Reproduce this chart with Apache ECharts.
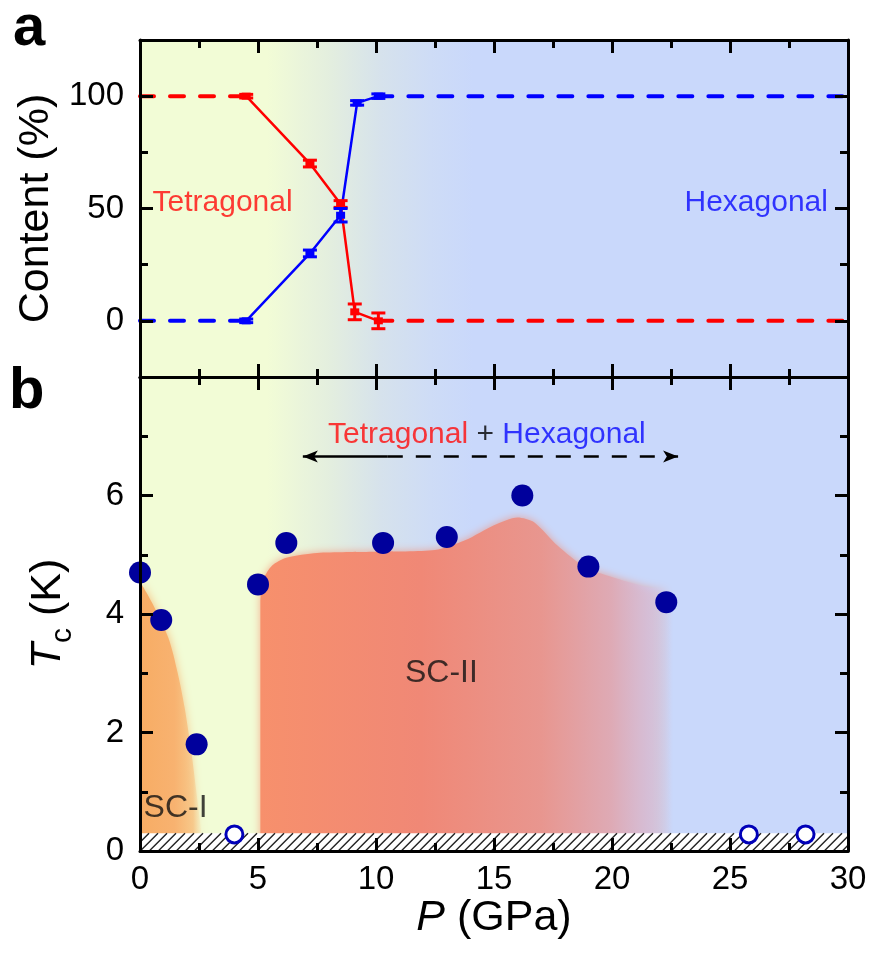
<!DOCTYPE html>
<html><head><meta charset="utf-8">
<script src="https://cdn.jsdelivr.net/npm/echarts@6/dist/echarts.min.js"></script>
<style>html,body{margin:0;padding:0;background:#fff}#c{width:872px;height:965px}</style>
</head><body><div id="c"></div>
<script>
// ================= DATA =================
// shared pressure axis
const pressureRange = [0, 30];
// panel a : phase content (%)
const tetraP = [4.5, 7.2, 8.5, 9.1, 10.1];
const tetraContent = [100, 70, 52, 4, 0];
const tetraErr = [0.8, 1.5, 1.5, 3.5, 3.5];
const hexaP = [4.5, 7.2, 8.5, 9.2, 10.1];
const hexaContent = [0, 30, 47, 97, 100];
const hexaErr = [0.8, 1.5, 3, 1, 1];
const tetraLowP = [0, 4.5], tetraLowC = [100, 100];
const tetraHighP = [10.1, 30], tetraHighC = [0, 0];
const hexaLowP = [0, 4.5], hexaLowC = [0, 0];
const hexaHighP = [10.1, 30], hexaHighC = [100, 100];
const contentRange = [-25, 125];
const contentMajorTicks = [0, 50, 100];
const contentMinorTicks = [25, 75];
// panel b : Tc (K)
const tcFilledP = [0, 0.9, 2.4, 5.0, 6.2, 10.3, 13.0, 16.2, 19.0, 22.3];
const tcFilledT = [4.7, 3.9, 1.8, 4.5, 5.2, 5.2, 5.3, 6.0, 4.8, 4.2];
const tcOpenP = [4.0, 25.8, 28.2];
const tcOpenT = [0.28, 0.28, 0.28];
const tcRange = [0, 8];
const tcLabelTicks = [0, 2, 4, 6];
// SC-I dome boundary
const sc1P = [0, 0.5, 1.2, 1.6, 1.9, 2.2, 2.45, 2.6, 2.65];
const sc1T = [4.55, 4.2, 3.6, 3.0, 2.4, 1.6, 0.8, 0.3, 0];
// SC-II dome boundary
const sc2P = [5.1, 5.1, 5.25, 5.6, 6.2, 7.5, 10, 12.5, 13.8, 15, 16, 16.7, 17.7, 18.9, 20.2, 21.5, 22.6, 22.6];
const sc2T = [0, 4.2, 4.6, 4.82, 4.95, 5.03, 5.05, 5.08, 5.25, 5.5, 5.63, 5.55, 5.15, 4.78, 4.6, 4.45, 4.35, 0];
// hatched (below detection limit) band: [Pmin, Pmax, Tmin, Tmax]
const hatchBand = [0, 30, 0, 0.3];
// mixed-phase arrow
const mixArrowT = 6.66;
const mixArrowP = [6.9, 10.5, 22.8]; // left tip, solid/dashed junction, right tip

// ================= STYLE =================
const FONT = 'Liberation Sans, Arial, sans-serif';
const RED = '#ff0000', BLUE = '#0000ff', NAVY = '#00009c';
const zip = (a, b) => a.map((v, i) => [v, b[i]]);

function frameX(gridIndex, position, labels) {
  return {
    type: 'value', gridIndex, position, min: pressureRange[0], max: pressureRange[1], interval: 5, z: 10,
    axisLine: { show: true, onZero: false, lineStyle: { color: '#000', width: 3 } },
    axisTick: { show: true, inside: true, length: 13, lineStyle: { color: '#000', width: 3 } },
    minorTick: { show: true, splitNumber: 2, length: 8, lineStyle: { color: '#000', width: 3 } },
    splitLine: { show: false }, minorSplitLine: { show: false },
    axisLabel: { show: labels, color: '#000', fontSize: 33, fontFamily: FONT, margin: 12, showMinLabel: true, showMaxLabel: true },
    name: labels ? '{i|P} (GPa)' : '', nameLocation: 'middle', nameGap: 44,
    nameTextStyle: { color: '#000', fontSize: 43, fontFamily: FONT, rich: { i: { fontStyle: 'italic', fontSize: 43, fontFamily: FONT, color: '#000' } } }
  };
}

function contentY(position, ticks, len, showLine, labels) {
  return {
    type: 'value', gridIndex: 0, position, min: contentRange[0], max: contentRange[1], z: 10,
    axisLine: { show: showLine, onZero: false, lineStyle: { color: '#000', width: 3 } },
    axisTick: { show: true, inside: true, length: len, customValues: ticks, lineStyle: { color: '#000', width: 3 } },
    splitLine: { show: false },
    axisLabel: { show: labels, customValues: ticks, color: '#000', fontSize: 33, fontFamily: FONT, margin: 16 },
    name: labels ? 'Content (%)' : '', nameLocation: 'middle', nameGap: 78,
    nameTextStyle: { color: '#000', fontSize: 43, fontFamily: FONT }
  };
}

function tcY(position, labels) {
  return {
    type: 'value', gridIndex: 1, position, min: tcRange[0], max: tcRange[1], interval: 2, z: 10,
    axisLine: { show: true, onZero: false, lineStyle: { color: '#000', width: 3 } },
    axisTick: { show: true, inside: true, length: 13, lineStyle: { color: '#000', width: 3 } },
    minorTick: { show: true, splitNumber: 2, length: 8, lineStyle: { color: '#000', width: 3 } },
    splitLine: { show: false }, minorSplitLine: { show: false },
    axisLabel: { show: labels, color: '#000', fontSize: 33, fontFamily: FONT, margin: 16,
      formatter: v => tcLabelTicks.indexOf(v) >= 0 ? String(v) : '' },
    name: labels ? '{i|T}{s|c}{n| (K)}' : '', nameLocation: 'middle', nameGap: 62,
    nameTextStyle: { color: '#000', fontSize: 43, fontFamily: FONT,
      rich: {
        i: { fontStyle: 'italic', fontSize: 43, fontFamily: FONT, color: '#000', verticalAlign: 'middle', lineHeight: 60 },
        s: { fontSize: 30, fontFamily: FONT, color: '#000', verticalAlign: 'bottom', lineHeight: 60 },
        n: { fontSize: 43, fontFamily: FONT, color: '#000', verticalAlign: 'middle', lineHeight: 60 }
      } }
  };
}

function bgArea(xi, yi, yr) {
  return {
    type: 'line', xAxisIndex: xi, yAxisIndex: yi, z: 1, silent: true,
    data: [[pressureRange[0], yr[0]]], showSymbol: false, lineStyle: { opacity: 0 },
    markArea: {
      silent: true,
      itemStyle: {
        color: { type: 'linear', x: 0, y: 0, x2: 1, y2: 0, colorStops: [
          { offset: 0, color: '#f2fcd6' }, { offset: 0.18, color: '#f2fcd6' },
          { offset: 0.27, color: '#e3eedf' }, { offset: 0.34, color: '#d6e2ec' },
          { offset: 0.41, color: '#cedcf6' }, { offset: 0.47, color: '#c9d8fb' }, { offset: 1, color: '#c9d8fb' }] }
      },
      data: [[{ coord: [pressureRange[0], yr[0]] }, { coord: [pressureRange[1], yr[1]] }]]
    }
  };
}

function dashed(P, C, color) {
  return { type: 'line', xAxisIndex: 0, yAxisIndex: 0, z: 3, data: zip(P, C), showSymbol: false, silent: true,
    lineStyle: { color, width: 4, type: [14, 16], cap: 'round', opacity: 1 } };
}
function solid(P, C, color) {
  return { type: 'line', xAxisIndex: 0, yAxisIndex: 0, z: 4, data: zip(P, C), symbol: 'rect', symbolSize: [9, 7],
    showSymbol: true, silent: true, itemStyle: { color, opacity: 1 }, lineStyle: { color, width: 2.5, opacity: 1 } };
}
function errBars(P, C, E, color) {
  return {
    type: 'custom', xAxisIndex: 0, yAxisIndex: 0, z: 5, silent: true,
    data: P.map((p, i) => [p, C[i], E[i]]),
    renderItem(params, api) {
      const x = api.value(0), y = api.value(1), e = api.value(2);
      const t = api.coord([x, y + e]), b = api.coord([x, y - e]);
      const w = 7, st = { stroke: color, lineWidth: 3 };
      return { type: 'group', children: [
        { type: 'line', shape: { x1: t[0], y1: t[1], x2: b[0], y2: b[1] }, style: st },
        { type: 'line', shape: { x1: t[0] - w, y1: t[1], x2: t[0] + w, y2: t[1] }, style: st },
        { type: 'line', shape: { x1: b[0] - w, y1: b[1], x2: b[0] + w, y2: b[1] }, style: st }
      ] };
    }
  };
}

const option = {
  animation: false,
  backgroundColor: '#fff',
  grid: [
    { left: 140, right: 24, top: 40, height: 337, outerBoundsMode: 'none' },
    { left: 140, right: 24, top: 377, height: 474, outerBoundsMode: 'none' }
  ],
  xAxis: [frameX(0, 'bottom', false), frameX(0, 'top', false), frameX(1, 'top', false), frameX(1, 'bottom', true)],
  yAxis: [
    contentY('left', contentMajorTicks, 13, true, true),
    contentY('left', contentMinorTicks, 8, false, false),
    contentY('right', contentMajorTicks, 13, true, false),
    contentY('right', contentMinorTicks, 8, false, false),
    tcY('left', true),
    tcY('right', false)
  ],
  graphic: [
    { type: 'text', x: 13, y: 29, z: 20, style: { text: 'a', font: 'bold 58px ' + FONT, fill: '#000', verticalAlign: 'middle' } },
    { type: 'text', x: 9, y: 392, z: 20, style: { text: 'b', font: 'bold 58px ' + FONT, fill: '#000', verticalAlign: 'middle' } }
  ],
  series: [
    bgArea(0, 0, contentRange),
    bgArea(3, 4, tcRange),
    // panel a
    dashed(tetraLowP, tetraLowC, RED), dashed(tetraHighP, tetraHighC, RED),
    dashed(hexaLowP, hexaLowC, BLUE), dashed(hexaHighP, hexaHighC, BLUE),
    solid(tetraP, tetraContent, RED), solid(hexaP, hexaContent, BLUE),
    errBars(tetraP, tetraContent, tetraErr, RED), errBars(hexaP, hexaContent, hexaErr, BLUE),
    {
      type: 'scatter', xAxisIndex: 0, yAxisIndex: 0, z: 6, symbolSize: 0, silent: true,
      label: { show: true, fontSize: 30, fontFamily: FONT },
      data: [
        { value: [0.53, 52.5], label: { formatter: 'Tetragonal', position: 'right', distance: 0, color: '#ff0a0a' } },
        { value: [29.15, 52.5], label: { formatter: 'Hexagonal', position: 'left', distance: 0, color: '#0a0aff' } }
      ]
    },
    // panel b : domes
    {
      type: 'line', xAxisIndex: 3, yAxisIndex: 4, z: 2, data: zip(sc1P, sc1T), smooth: 0.3, showSymbol: false, silent: true,
      lineStyle: { width: 0, opacity: 0 },
      areaStyle: {
        color: { type: 'linear', x: 0, y: 0, x2: 1, y2: 0, colorStops: [
          { offset: 0, color: '#f7ac64' }, { offset: 0.55, color: '#f8b270' },
          { offset: 0.85, color: 'rgba(248,195,130,0.65)' }, { offset: 1, color: 'rgba(245,230,180,0.15)' }] },
        shadowBlur: 10, shadowColor: 'rgba(247,172,100,0.8)', opacity: 1
      }
    },
    {
      type: 'line', xAxisIndex: 3, yAxisIndex: 4, z: 2, data: zip(sc2P, sc2T), smooth: 0.25, showSymbol: false, silent: true,
      lineStyle: { width: 0, opacity: 0 },
      areaStyle: {
        color: { type: 'linear', x: 0, y: 0, x2: 1, y2: 0, colorStops: [
          { offset: 0, color: '#f7906c' }, { offset: 0.39, color: '#f08876' },
          { offset: 0.68, color: '#e8968f' }, { offset: 0.85, color: '#deaab5' },
          { offset: 0.94, color: 'rgba(210,195,228,0.7)' }, { offset: 1, color: 'rgba(201,216,251,0)' }] },
        shadowBlur: 8, shadowColor: 'rgba(242,140,112,0.7)', opacity: 1
      }
    },
    // hatched band
    {
      type: 'custom', xAxisIndex: 3, yAxisIndex: 4, z: 3, silent: true,
      data: [hatchBand],
      renderItem(params, api) {
        const tl = api.coord([api.value(0), api.value(3)]);
        const br = api.coord([api.value(1), api.value(2)]);
        const x0 = tl[0], y0 = tl[1], x1 = br[0], y1 = br[1], h = y1 - y0;
        const ch = [{ type: 'rect', shape: { x: x0, y: y0, width: x1 - x0, height: h }, style: { fill: '#fff' } }];
        for (let xb = x0 - h; xb < x1; xb += 9) {
          let sx = xb, sy = y1, ex = xb + h, ey = y0;
          if (sx < x0) { sy = y1 - (x0 - sx); sx = x0; }
          if (ex > x1) { ey = y0 + (ex - x1); ex = x1; }
          if (ex <= sx) continue;
          ch.push({ type: 'line', shape: { x1: sx, y1: sy, x2: ex, y2: ey }, style: { stroke: '#222', lineWidth: 1.4 } });
        }
        return { type: 'group', children: ch };
      }
    },
    // Tc points
    {
      type: 'scatter', xAxisIndex: 3, yAxisIndex: 4, z: 7, clip: true, silent: true,
      data: zip(tcFilledP, tcFilledT), symbol: 'circle', symbolSize: 22, itemStyle: { color: NAVY, opacity: 1 }
    },
    {
      type: 'scatter', xAxisIndex: 3, yAxisIndex: 4, z: 7, silent: true,
      data: zip(tcOpenP, tcOpenT), symbol: 'circle', symbolSize: 17,
      itemStyle: { color: '#fff', borderColor: '#0000b8', borderWidth: 3, opacity: 1 }
    },
    // labels + arrow
    {
      type: 'scatter', xAxisIndex: 3, yAxisIndex: 4, z: 8, symbolSize: 0, silent: true,
      label: { show: true, fontFamily: FONT },
      data: [
        { value: [14.7, 7.02], label: { position: 'inside', fontSize: 30, formatter: '{r|Tetragonal} {k|+} {b|Hexagonal}',
          rich: { r: { color: '#ff0a0a', fontSize: 30, fontFamily: FONT }, k: { color: '#000', fontSize: 30, fontFamily: FONT }, b: { color: '#0a0aff', fontSize: 30, fontFamily: FONT } } } },
        { value: [12.77, 3.0], label: { position: 'inside', fontSize: 32, color: '#111', formatter: 'SC-II' } },
        { value: [0.15, 0.72], label: { position: 'right', distance: 0, fontSize: 32, color: '#111', formatter: 'SC-I' } }
      ],
      markLine: {
        silent: true, symbolSize: [9, 15], label: { show: false },
        data: [
          [{ coord: [mixArrowP[1], mixArrowT], symbol: 'none', lineStyle: { type: 'solid', color: '#000', width: 2.5 } },
           { coord: [mixArrowP[0], mixArrowT], symbol: 'arrow' }],
          [{ coord: [mixArrowP[1], mixArrowT], symbol: 'none', lineStyle: { type: [15, 13], color: '#000', width: 2.5 } },
           { coord: [mixArrowP[2], mixArrowT], symbol: 'arrow' }]
        ]
      }
    }
  ]
};

const chart = echarts.init(document.getElementById('c'), null, { renderer: 'canvas' });
chart.setOption(option);
</script>
</body></html>
